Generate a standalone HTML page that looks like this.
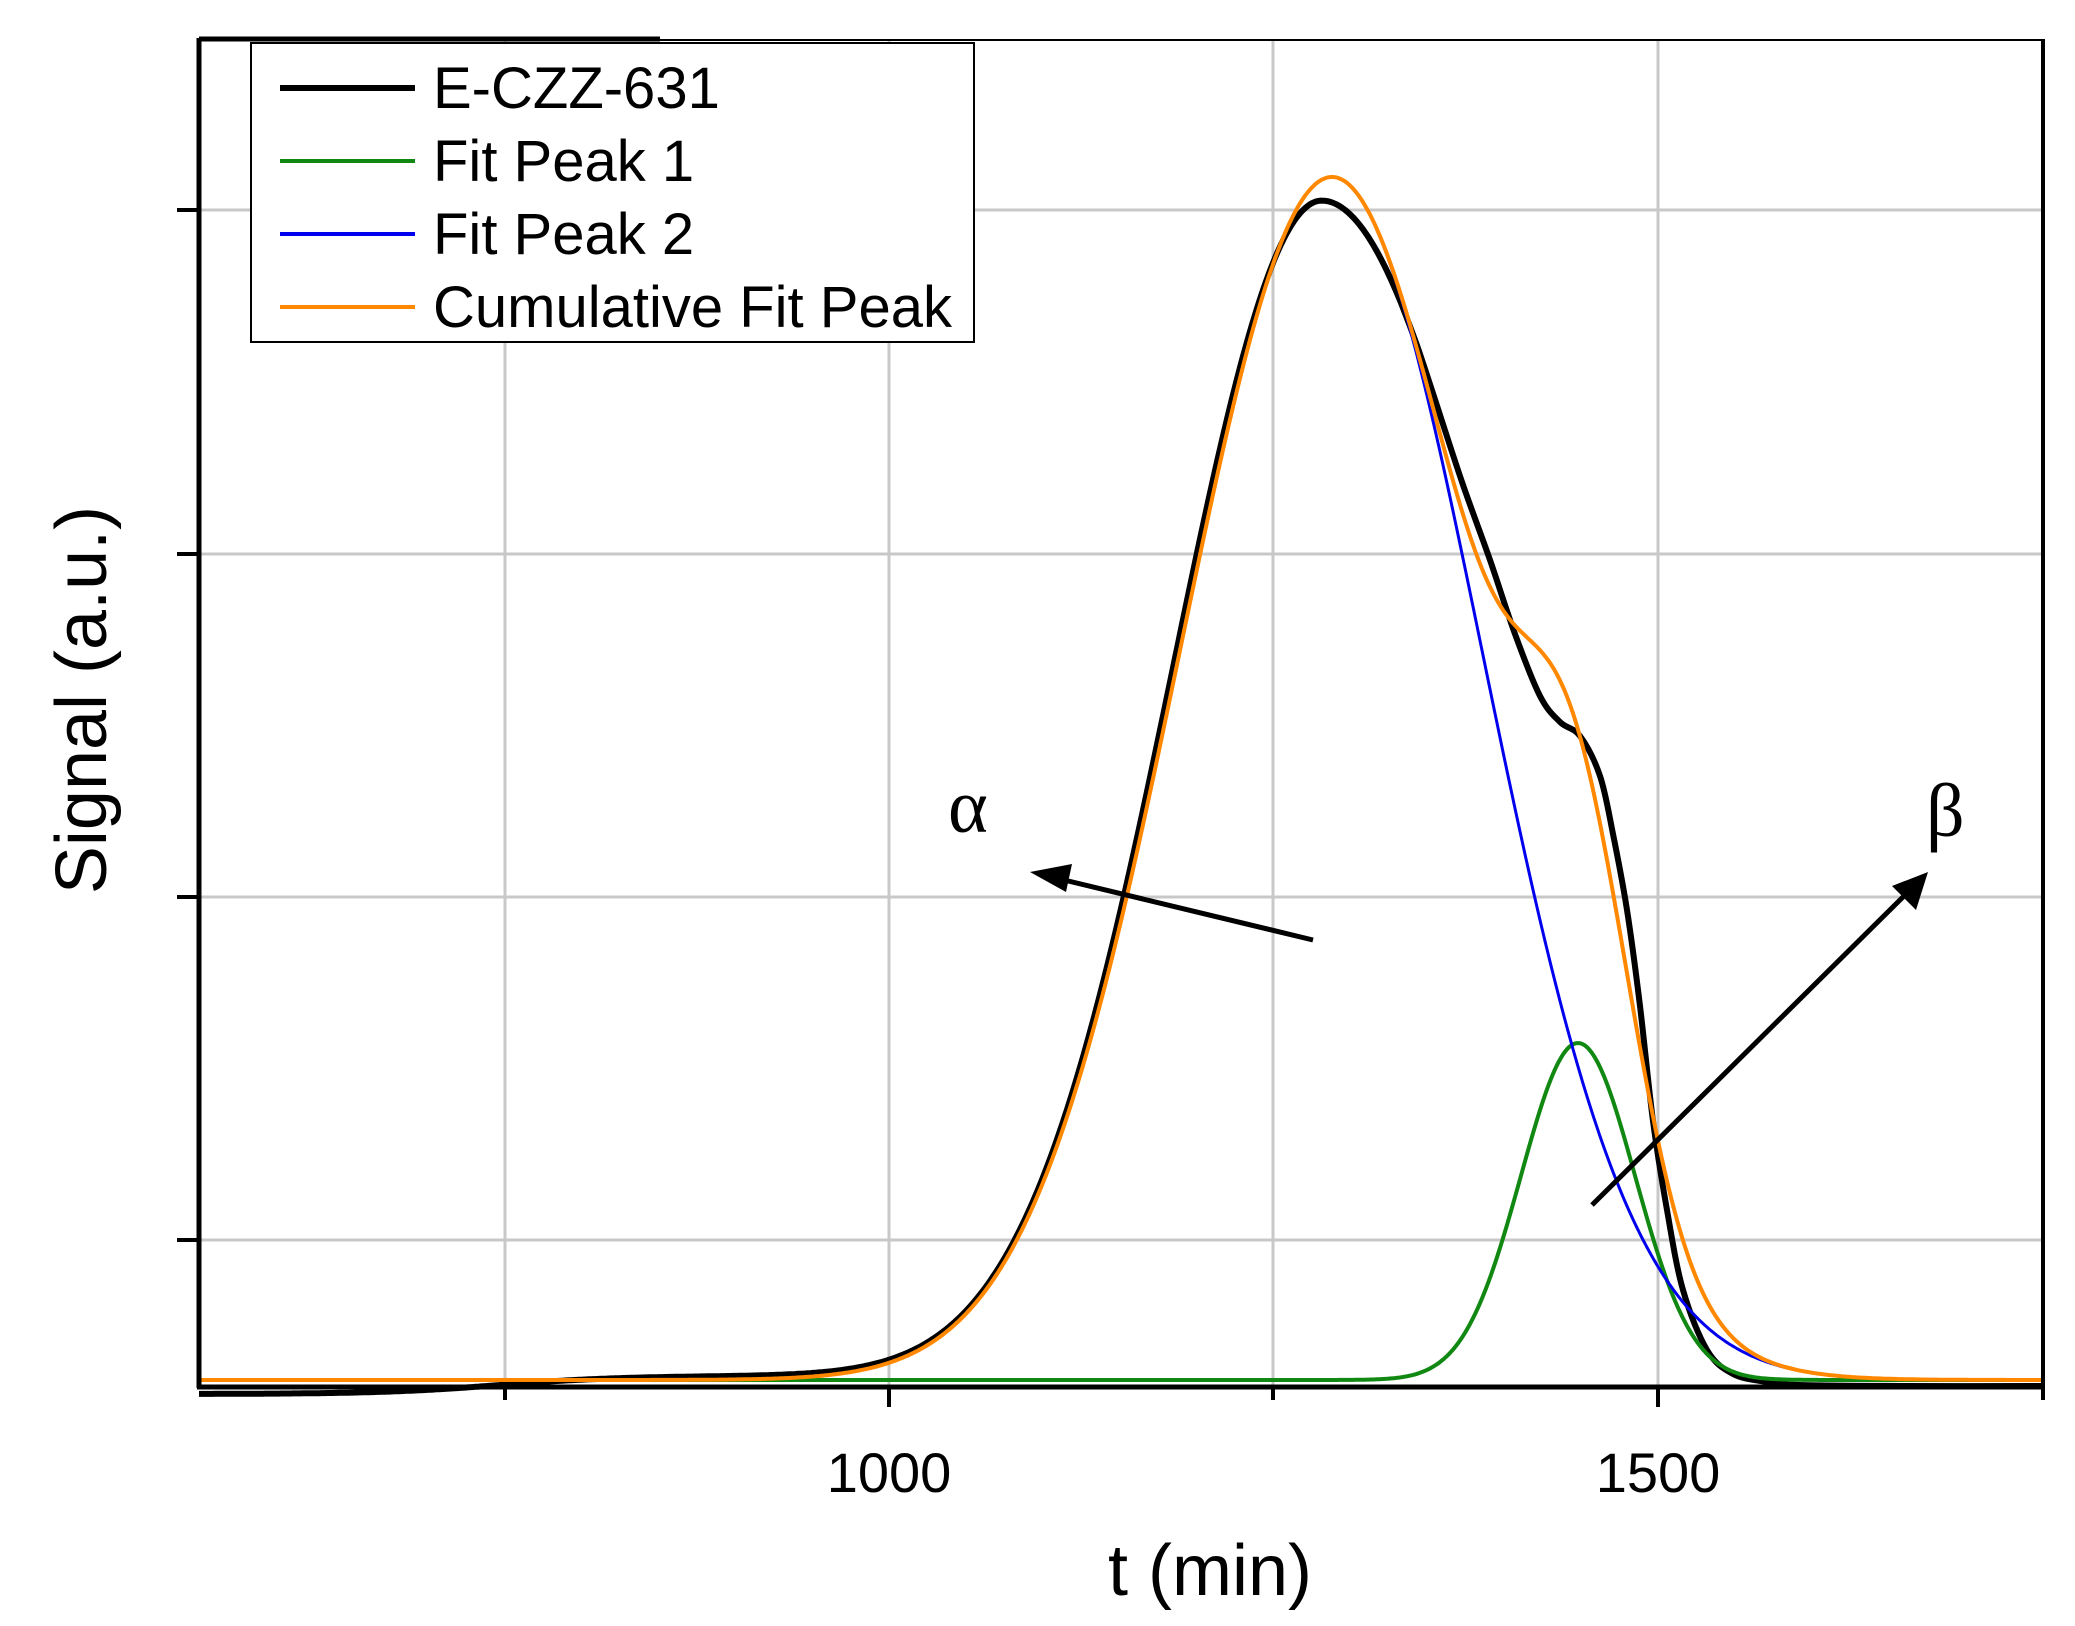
<!DOCTYPE html>
<html><head><meta charset="utf-8"><style>
html,body{margin:0;padding:0;background:#fff;}
svg{display:block;}
text{font-family:"Liberation Sans",Arial,sans-serif;fill:#000;}
</style></head><body>
<svg id="s" width="2075" height="1626" viewBox="0 0 2075 1626" xmlns="http://www.w3.org/2000/svg">
<rect width="2075" height="1626" fill="#fff"/>
<g stroke="#c8c8c8" stroke-width="3">
<line x1="505" y1="40" x2="505" y2="1386"/>
<line x1="889" y1="40" x2="889" y2="1386"/>
<line x1="1273" y1="40" x2="1273" y2="1386"/>
<line x1="1658" y1="40" x2="1658" y2="1386"/>
<line x1="199" y1="210" x2="2043" y2="210"/>
<line x1="199" y1="554" x2="2043" y2="554"/>
<line x1="199" y1="897" x2="2043" y2="897"/>
<line x1="199" y1="1240" x2="2043" y2="1240"/>
</g>
<g id="curves" fill="none" stroke-linejoin="round"></g>
<g stroke="#000" fill="none">
<line x1="199" y1="38" x2="199" y2="1388" stroke-width="5"/>
<line x1="197" y1="1387" x2="2045" y2="1387" stroke-width="5"/>
<line x1="199" y1="39" x2="660" y2="39" stroke-width="5"/>
<line x1="660" y1="40" x2="2045" y2="40" stroke-width="2"/>
<line x1="2043" y1="40" x2="2043" y2="1400" stroke-width="4"/>
<line x1="177" y1="210" x2="199" y2="210" stroke-width="4"/>
<line x1="177" y1="554" x2="199" y2="554" stroke-width="4"/>
<line x1="177" y1="897" x2="199" y2="897" stroke-width="4"/>
<line x1="177" y1="1240" x2="199" y2="1240" stroke-width="4"/>
<line x1="505" y1="1387" x2="505" y2="1400" stroke-width="4"/>
<line x1="889" y1="1387" x2="889" y2="1407" stroke-width="4"/>
<line x1="1273" y1="1387" x2="1273" y2="1400" stroke-width="4"/>
<line x1="1658" y1="1387" x2="1658" y2="1407" stroke-width="4"/>
</g>
<rect x="251" y="43" width="723" height="299" fill="#fff" stroke="#000" stroke-width="2"/>
<g stroke-width="4">
<line x1="280" y1="88" x2="415" y2="88" stroke="#000" stroke-width="6"/>
<line x1="280" y1="161" x2="415" y2="161" stroke="#118811"/>
<line x1="280" y1="234" x2="415" y2="234" stroke="#0000ee"/>
<line x1="280" y1="307" x2="415" y2="307" stroke="#ff8800"/>
</g>
<g font-size="58">
<text x="433" y="108">E-CZZ-631</text>
<text x="433" y="181">Fit Peak 1</text>
<text x="433" y="254">Fit Peak 2</text>
<text x="433" y="327">Cumulative Fit Peak</text>
</g>
<text x="889" y="1492" font-size="56" text-anchor="middle">1000</text>
<text x="1658" y="1492" font-size="56" text-anchor="middle">1500</text>
<text x="1210" y="1595" font-size="72" text-anchor="middle">t  (min)</text>
<text transform="translate(106,700) rotate(-90)" font-size="72" text-anchor="middle">Signal  (a.u.)</text>
<g stroke="#000" stroke-width="5">
<line x1="1313" y1="940" x2="1060" y2="879"/>
<line x1="1592" y1="1205" x2="1905" y2="895"/>
</g>
<polygon points="1030,872 1072,864 1066,892" fill="#000"/>
<polygon points="1928,872 1916,910 1892,886" fill="#000"/>
<text x="948" y="832" font-size="76" style="font-family:'Liberation Serif',serif">α</text>
<text x="1926" y="836" font-size="76" style="font-family:'Liberation Serif',serif">β</text>
</svg>
<script>
function g(x,c,h,sl,sr){var s=x<c?sl:sr;var d=x-c;return h*Math.exp(-d*d/(2*s*s));}
function sig(x){return 1/(1+Math.exp(-x));}
var base=1380;
function gp(x){return g(x,1578,337,57,57);}
function bp(x){return g(x,1332,1203,152,150);}
function green(x){return base-gp(x);}
function blue(x){return base-bp(x);}
function orange(x){return base-gp(x)-bp(x);}
function blackL(x){
 var b=1394-18*sig((x-500)/60)+5*sig((x-1400)/40);
 return b-g(x,1322,1176,148,187);
}
var G=document.getElementById('curves');
function addD(d,c,w){var e=document.createElementNS('http://www.w3.org/2000/svg','path');e.setAttribute('d',d);e.setAttribute('stroke',c);e.setAttribute('stroke-width',w);G.appendChild(e);}
function path(f,x0,x1){var p='';for(var x=x0;x<=x1;x+=2){p+=(x==x0?'M':'L')+x+' '+f(x).toFixed(1);}return p;}
var pts=[[1401,blackL(1401)],[1417,blackL(1417)],[1433,blackL(1433)],[1462,482],[1490,560],[1515,634],[1540,696],[1560,722],[1580,736],[1600,776],[1613,834],[1627,910],[1640,1006],[1653,1121],[1667,1210],[1683,1290],[1707,1350],[1733,1374],[1767,1382],[1800,1385],[1900,1386],[2043,1386]];
var d=path(blackL,199,1401);
for(var i=0;i<pts.length-1;i++){
 var p0=pts[Math.max(i-1,0)],p1=pts[i],p2=pts[i+1],p3=pts[Math.min(i+2,pts.length-1)];
 var c1=[p1[0]+(p2[0]-p0[0])/6,p1[1]+(p2[1]-p0[1])/6],c2=[p2[0]-(p3[0]-p1[0])/6,p2[1]-(p3[1]-p1[1])/6];
 d+='C'+c1[0].toFixed(1)+' '+c1[1].toFixed(1)+' '+c2[0].toFixed(1)+' '+c2[1].toFixed(1)+' '+p2[0]+' '+p2[1].toFixed(1);
}
addD(d,'#000',6);
addD(path(green,199,2043),'#118811',4);
addD(path(blue,199,2043),'#0000ee',3);
addD(path(orange,199,2043),'#ff8800',4);
</script>
</body></html>
